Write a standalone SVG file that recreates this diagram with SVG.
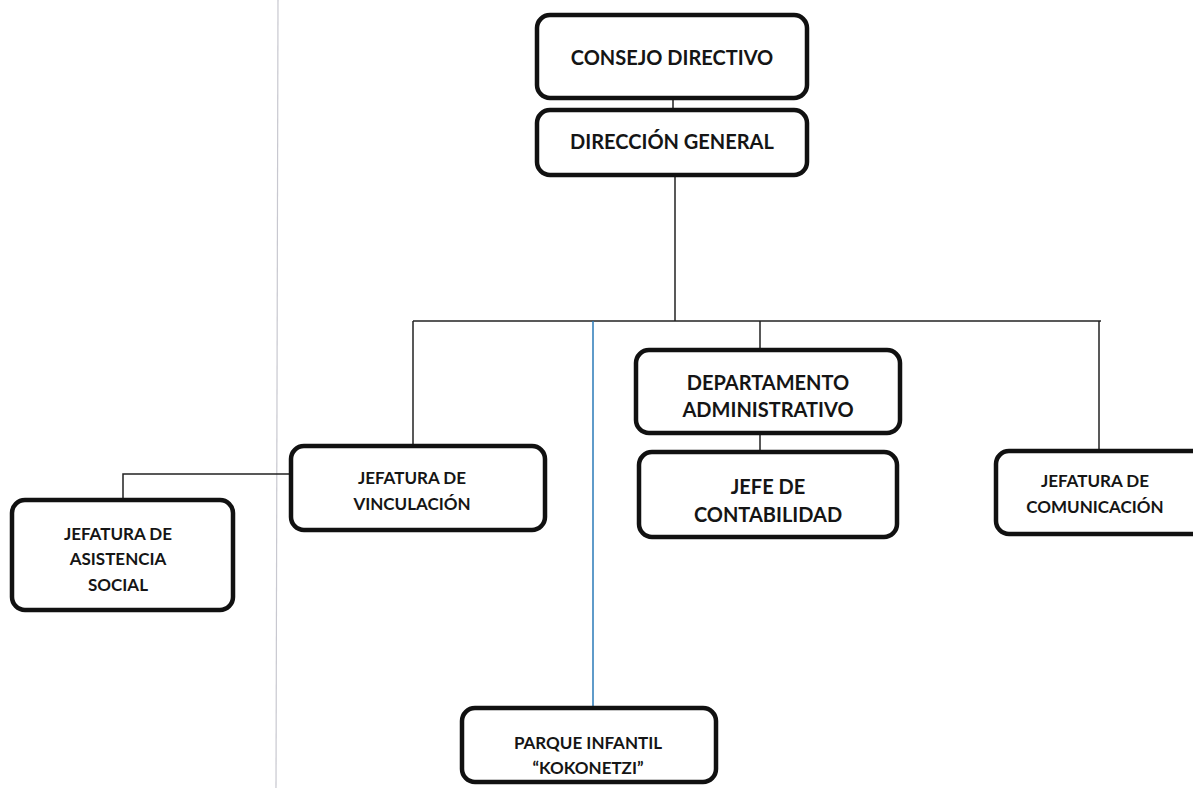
<svg xmlns="http://www.w3.org/2000/svg" width="1193" height="788" viewBox="0 0 1193 788">
<style>
.box{fill:#fff;stroke:#111;stroke-width:4.5}
.t{font-family:Lato,"Open Sans",sans-serif;font-weight:bold;fill:#151515;text-anchor:middle}
.l{font-size:20px}
.s{font-size:17px}
.c{stroke:#222;stroke-width:1.5;fill:none}
</style>
<rect width="1193" height="788" fill="#fff"/>
<line x1="278" y1="0" x2="276" y2="788" stroke="#c8c8d0" stroke-width="1.2"/>
<g id="connectors">
<line class="c" x1="673" y1="98" x2="673" y2="110"/>
<line class="c" x1="675" y1="175" x2="675" y2="321"/>
<line class="c" x1="413" y1="321" x2="1101" y2="321"/>
<line class="c" x1="413" y1="321" x2="413" y2="446"/>
<line class="c" x1="760" y1="321" x2="760" y2="350"/>
<line class="c" x1="1099" y1="321" x2="1099" y2="451"/>
<line class="c" x1="760" y1="433" x2="760" y2="452"/>
<line x1="593" y1="321" x2="593" y2="708" stroke="#2a7ab8" stroke-width="1.5"/>
<polyline class="c" points="289,474 123,474 123,500"/>
</g>
<g id="consejo">
<rect class="box" x="537" y="15" width="270" height="83" rx="13"/>
<text class="t l" x="672" y="65">CONSEJO DIRECTIVO</text>
</g>
<g id="direccion">
<rect class="box" x="537" y="110" width="270" height="65" rx="13"/>
<text class="t l" x="672" y="149">DIRECCIÓN GENERAL</text>
</g>
<g id="vinculacion">
<rect class="box" x="291" y="446" width="254" height="84" rx="13"/>
<text class="t s" x="412" y="484">JEFATURA DE</text>
<text class="t s" x="412" y="510">VINCULACIÓN</text>
</g>
<g id="asistencia">
<rect class="box" x="12" y="500" width="221" height="110" rx="13"/>
<text class="t s" x="118" y="540">JEFATURA DE</text>
<text class="t s" x="118" y="565">ASISTENCIA</text>
<text class="t s" x="118" y="591">SOCIAL</text>
</g>
<g id="departamento">
<rect class="box" x="636" y="350" width="264" height="83" rx="13"/>
<text class="t l" x="768" y="390">DEPARTAMENTO</text>
<text class="t l" x="768" y="417">ADMINISTRATIVO</text>
</g>
<g id="contabilidad">
<rect class="box" x="639" y="452" width="258" height="85" rx="13"/>
<text class="t l" x="768" y="494">JEFE DE</text>
<text class="t l" x="768" y="522">CONTABILIDAD</text>
</g>
<g id="comunicacion">
<rect class="box" x="996" y="451" width="210" height="83" rx="13"/>
<text class="t s" x="1095" y="487">JEFATURA DE</text>
<text class="t s" x="1095" y="513">COMUNICACIÓN</text>
</g>
<g id="parque">
<rect class="box" x="462" y="708" width="254" height="74" rx="13"/>
<text class="t s" x="588" y="749">PARQUE INFANTIL</text>
<text class="t s" x="588" y="774">“KOKONETZI”</text>
</g>
</svg>
